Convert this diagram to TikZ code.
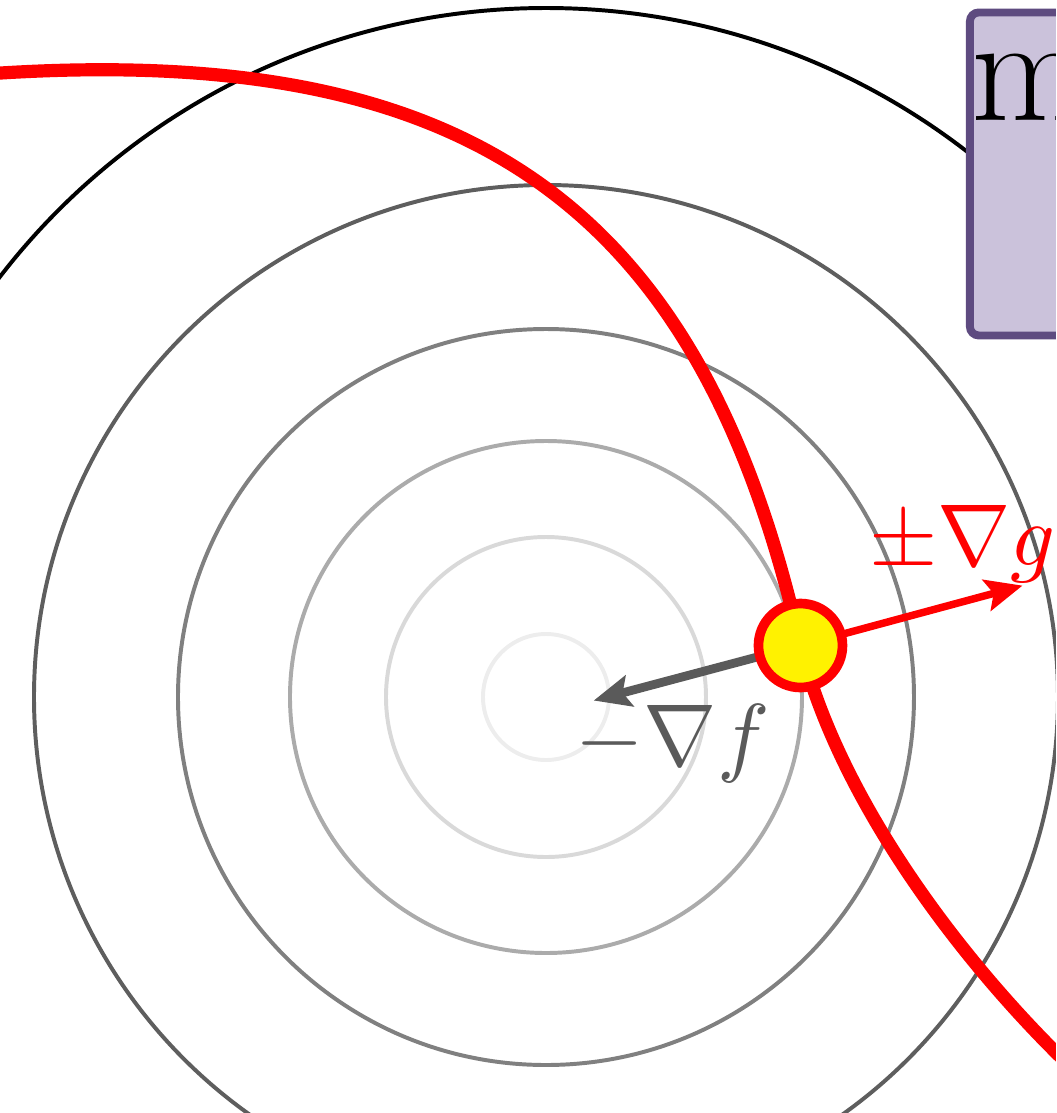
\documentclass[tikz,border=0pt]{standalone}
\usetikzlibrary{arrows.meta}
\definecolor{notefill}{HTML}{CBC2DB}
\definecolor{notedraw}{HTML}{5E4B80}
\definecolor{gradgray}{HTML}{5A5A5A}

\begin{document}
\begin{tikzpicture}[x=1cm,y=1cm,
  contour/.style={line width=0.45pt},
  gradarrow/.style={line width=1pt,-{Stealth[length=4.2pt,width=3.6pt,inset=0.8pt]}}]
\useasboundingbox (-2.184,-1.664) rectangle (2.04,2.788);
\clip (-2.184,-1.664) rectangle (2.04,2.788);

% level sets of f
\foreach \r/\shade in {0.252/7,0.64/15,1.024/33,1.472/50,2.048/63,2.756/100}{
  \draw[contour,draw=black!\shade] (0,0) circle (\r);
}

\coordinate (xs) at (1.018,0.206);

% constraint curve g = 0
\draw[red,line width=1.5pt] (-2.5,2.47) .. controls (-0.4,2.68) and (0.6,2.06) .. (xs)
  .. controls (1.2,-0.52) and (1.838,-1.276) .. (2.3,-1.66);

\draw[gradarrow,gradgray] (xs) -- ++(194.9:0.856) coordinate (tipf);
\draw[gradarrow,red,line width=0.85pt] (xs) -- ++(15.1:0.92) coordinate (tipg);
\node[circle,fill=yellow,draw=red,line width=1.1pt,minimum size=0.336cm,inner sep=0pt] (dot) at (xs) {};

\node[text=gradgray,anchor=base] (labf) at (0.506,-0.272) {$-\nabla f$};
\node[text=red,anchor=base] (labg) at (1.666,0.528) {$\pm\nabla g$};

% note box, cut off by the frame
\node[draw=notedraw,fill=notefill,line width=0.9pt,rounded corners=1pt,anchor=north west,
  minimum width=2cm,minimum height=1.292cm,inner sep=0pt] (note) at (1.68,2.754) {};
\node[anchor=base west,inner sep=0pt,font=\LARGE] (notetext) at (1.694,2.308) {m};
\end{tikzpicture}
\end{document}
